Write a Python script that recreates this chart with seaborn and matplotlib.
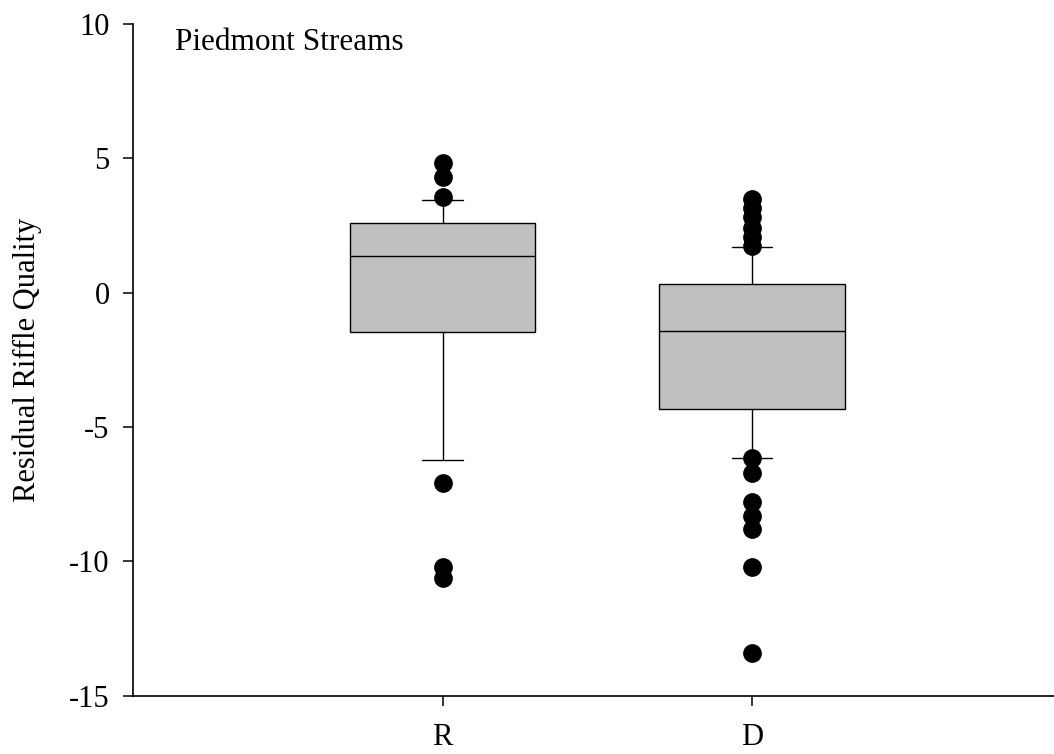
import pandas as pd
import matplotlib.pyplot as plt
import seaborn as sns

# -------------------------------
# Data
# -------------------------------
groups = ['R', 'D']

# lower whisker, Q1, median, Q3, upper whisker
r_box = [-6.23, -1.45, 1.37, 2.58, 3.45]
d_box = [-6.15, -4.34, -1.43, 0.31, 1.71]

# points beyond the whiskers
r_out = [4.84, 4.32, 3.55, -7.09, -10.22, -10.63]
d_out = [3.49, 3.15, 2.82, 2.41, 2.07, 1.73,
         -6.17, -6.72, -7.78, -8.31, -8.81, -10.22, -13.42]

y_ticks = [-15, -10, -5, 0, 5, 10]

df_box = pd.DataFrame({
    'group': ['R'] * len(r_box) + ['D'] * len(d_box),
    'value': r_box + d_box,
})
df_out = pd.DataFrame({
    'group': ['R'] * len(r_out) + ['D'] * len(d_out),
    'value': r_out + d_out,
})

# -------------------------------
# Style
# -------------------------------
sns.set_style("ticks")
plt.rcParams['font.family'] = ['Liberation Serif', 'DejaVu Serif']
plt.rcParams['axes.unicode_minus'] = False
plt.rcParams['text.color'] = 'black'
plt.rcParams['axes.labelcolor'] = 'black'
plt.rcParams['xtick.color'] = 'black'
plt.rcParams['ytick.color'] = 'black'

fig = plt.figure(figsize=(10.54, 7.54), dpi=100)
ax = fig.add_axes([133.3 / 1054, 1 - 695.7 / 754,
                   (1061 - 133.3) / 1054, (695.7 - 24) / 754])

# -------------------------------
# Box plot + outliers
# -------------------------------
sns.boxplot(
    data=df_box, x='group', y='value', order=groups,
    whis=(0, 100), showfliers=False, width=0.6,
    color='#c0c0c0', saturation=1, linecolor='black', linewidth=1.0,
    capwidths=0.13, ax=ax
)

sns.stripplot(
    data=df_out, x='group', y='value', order=groups,
    jitter=False, color='black', size=13.5, linewidth=0, ax=ax
)

ax.set_xlim(-1, 2)
ax.set_ylim(-15, 10)
ax.set_yticks(y_ticks)
ax.set_yticklabels([str(t) for t in y_ticks])

ax.set_xlabel('')
ax.set_ylabel('Residual Riffle Quality', fontsize=22)
ax.yaxis.set_label_coords(-0.098, 0.5)

ax.tick_params(axis='y', direction='out', length=7, width=1.1,
               labelsize=22, pad=10)
ax.tick_params(axis='x', direction='out', length=7, width=1.1,
               labelsize=22, pad=13)

for side in ['top', 'right']:
    ax.spines[side].set_visible(False)
for side in ['left', 'bottom']:
    ax.spines[side].set_linewidth(1.2)
    ax.spines[side].set_color('black')

ax.text(0.045, 0.961, 'Piedmont Streams', transform=ax.transAxes,
        fontsize=22.5, va='baseline', ha='left')

fig.savefig('out.png', dpi=100)
